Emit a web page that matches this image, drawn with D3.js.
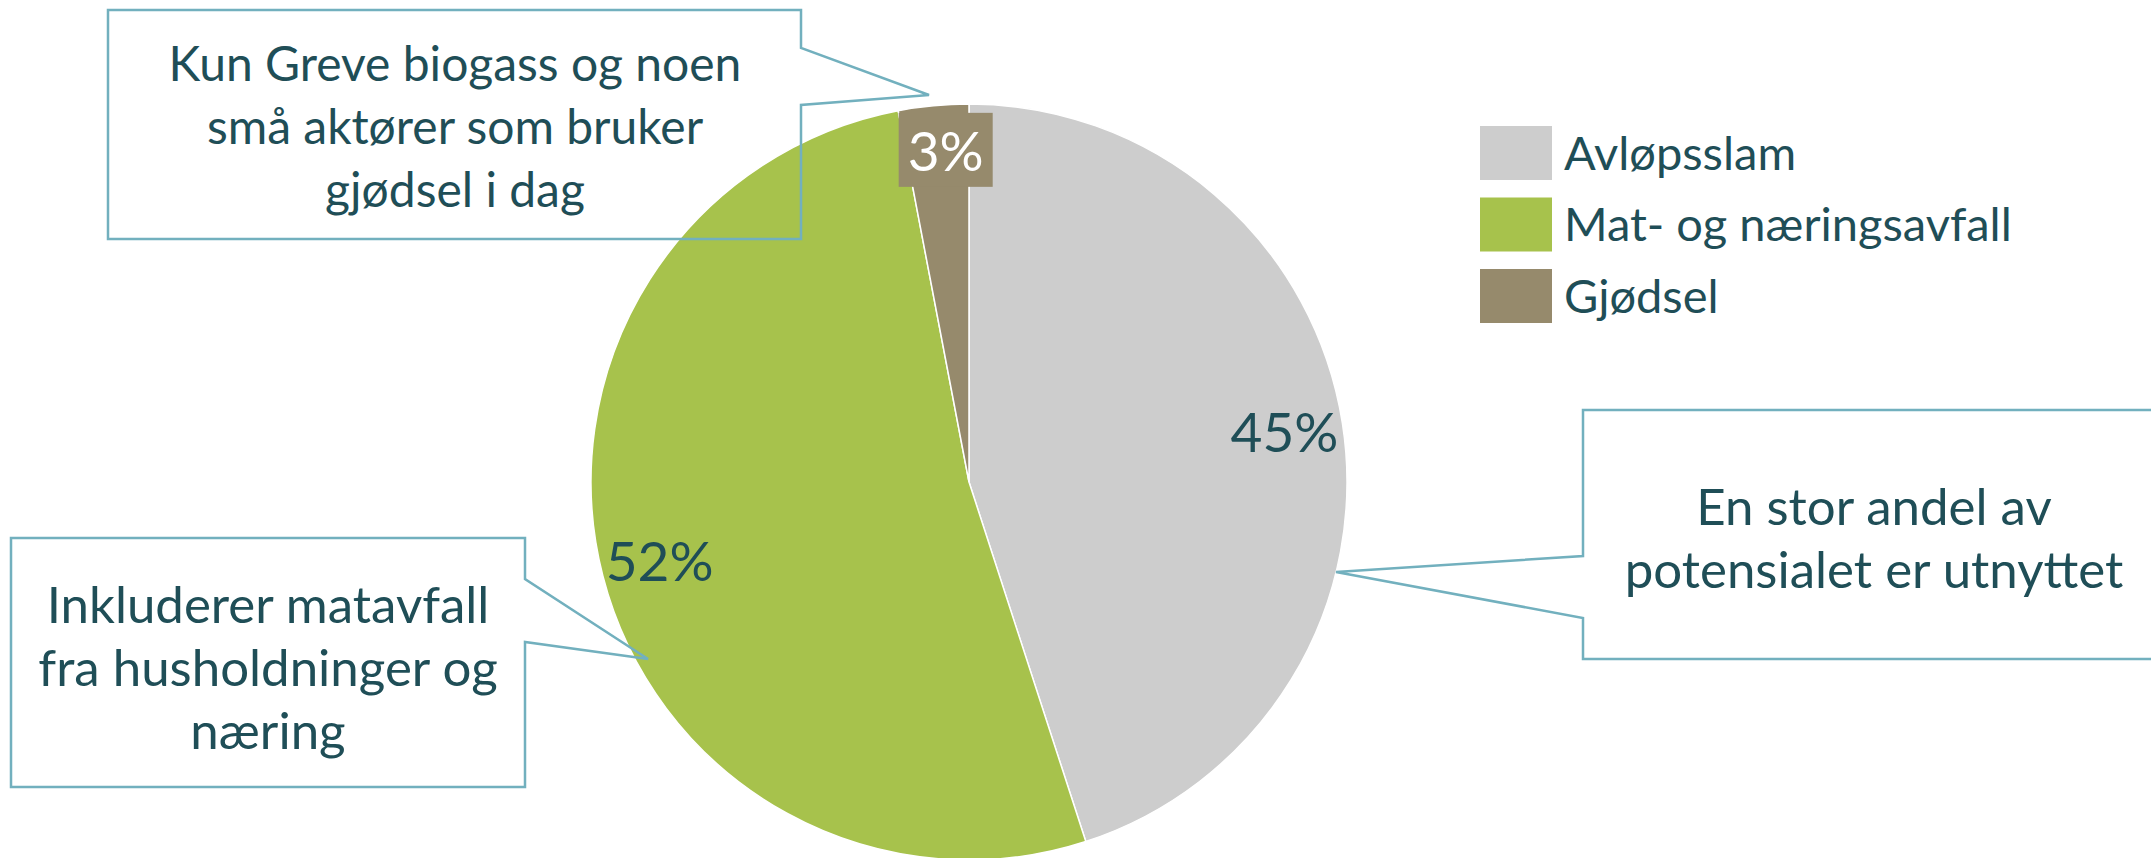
<!DOCTYPE html>
<html>
<head>
<meta charset="utf-8">
<script src="https://cdn.jsdelivr.net/npm/d3@7"></script>
<style>
  body { margin: 0; background: #fff; }
  svg { display: block; font-family: Lato, "Open Sans", sans-serif; }
</style>
</head>
<body>
<svg id="chart" width="2151" height="858"></svg>
<script>
// Data
const categories = ["Avløpsslam", "Mat- og næringsavfall", "Gjødsel"];
const values = [45, 52, 3];
const colors = ["#cdcdcd", "#a7c24c", "#968a6c"];

const callouts = [
    ["Kun Greve biogass og noen", "små aktører som bruker", "gjødsel i dag"],
    ["Inkluderer matavfall", "fra husholdninger og", "næring"],
    ["En stor andel av", "potensialet er utnyttet"]
];

const width = 2151, height = 858;
const textColor = "#1f4e57";
const calloutColor = "#72b0be";

const svg = d3.select("#chart");

const cx = 969, cy = 482, radius = 378;

const pie = d3.pie().sort(null).value(d => d);
const arcs = pie(values);
const total = d3.sum(values);

const arc = d3.arc().innerRadius(0).outerRadius(radius);
const labelArc = d3.arc().innerRadius(radius * 0.845).outerRadius(radius * 0.845);

const g = svg.append("g").attr("transform", `translate(${cx},${cy})`);

g.selectAll("path.slice")
    .data(arcs)
    .join("path")
    .attr("class", "slice")
    .attr("d", arc)
    .attr("fill", (d, i) => colors[i])
    .attr("stroke", "#fff")
    .attr("stroke-width", 1.5);

// percentage labels (the thin slice's label sits further out, like Excel's best fit)
const fmt = d => Math.round(d.value / total * 100) + "%";
const labels = g.selectAll("g.label")
    .data(arcs)
    .join("g")
    .attr("class", "label")
    .attr("transform", (d, i) => {
        const [x, y] = i === 2
            ? d3.arc().innerRadius(radius * 0.88).outerRadius(radius * 0.88).centroid(d)
            : labelArc.centroid(d);
        return `translate(${x + (i === 2 ? 8 : 0)},${y})`;
    });

// small slice gets a coloured box behind its label
labels.filter((d, i) => i === 2)
    .append("rect")
    .attr("x", -47)
    .attr("y", -38)
    .attr("width", 94)
    .attr("height", 74)
    .attr("fill", colors[2]);

labels.append("text")
    .attr("text-anchor", "middle")
    .attr("dy", "0.36em")
    .attr("font-size", 55)
    .attr("fill", (d, i) => i === 2 ? "#fff" : textColor)
    .text(fmt);

// Callouts: box + pointer, no fill
const boxes = [
    {x0: 108, y0: 10, x1: 801, y1: 239, side: "right", b0: 48, b1: 105, tip: [929, 95], tx: 455, ty: 64, fs: 48},
    {x0: 11, y0: 538, x1: 525, y1: 787, side: "right", b0: 579, b1: 642, tip: [648, 659], tx: 268, ty: 605, fs: 51},
    {x0: 1583, y0: 410, x1: 2170, y1: 659, side: "left", b0: 556, b1: 618, tip: [1336, 572], tx: 1874, ty: 507, fs: 51}
];

boxes.forEach((b, i) => {
    let pts;
    if (b.side === "right") {
        pts = [[b.x0, b.y0], [b.x1, b.y0], [b.x1, b.b0], b.tip, [b.x1, b.b1], [b.x1, b.y1], [b.x0, b.y1]];
    } else {
        pts = [[b.x0, b.y0], [b.x1, b.y0], [b.x1, b.y1], [b.x0, b.y1], [b.x0, b.b1], b.tip, [b.x0, b.b0]];
    }
    svg.append("path")
        .attr("d", d3.line()(pts) + "Z")
        .attr("fill", "none")
        .attr("stroke", calloutColor)
        .attr("stroke-width", 2.5)
        .attr("stroke-linejoin", "miter");

    svg.append("text")
        .attr("text-anchor", "middle")
        .attr("font-size", b.fs)
        .attr("fill", textColor)
        .selectAll("tspan")
        .data(callouts[i])
        .join("tspan")
        .attr("x", b.tx)
        .attr("y", (d, j) => b.ty + j * 63)
        .attr("dy", "0.36em")
        .text(d => d);
});

// Legend
const legend = svg.append("g").attr("transform", "translate(1480,126)");
const item = legend.selectAll("g")
    .data(categories)
    .join("g")
    .attr("transform", (d, i) => `translate(0,${i * 71.5})`);

item.append("rect")
    .attr("width", 72)
    .attr("height", 54)
    .attr("fill", (d, i) => colors[i]);

item.append("text")
    .attr("x", 84)
    .attr("y", 27)
    .attr("dy", "0.36em")
    .attr("font-size", 47)
    .attr("fill", textColor)
    .text(d => d);
</script>
</body>
</html>
